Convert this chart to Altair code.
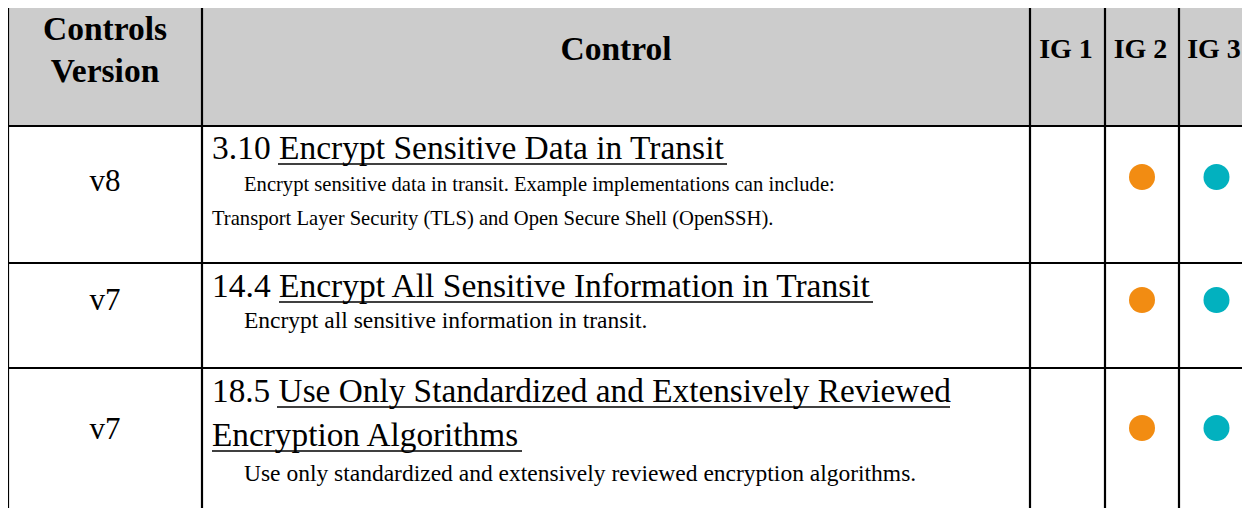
import altair as alt
import pandas as pd

# ---------------- data ----------------
headers = [["Controls", "Version"], ["Control"], ["IG 1"], ["IG 2"], ["IG 3"]]
versions = ["v8", "v7", "v7"]
control_ids = ["3.10", "14.4", "18.5"]
titles = [
    ["Encrypt Sensitive Data in Transit"],
    ["Encrypt All Sensitive Information in Transit"],
    ["Use Only Standardized and Extensively Reviewed", "Encryption Algorithms"],
]
descriptions = [
    ["Encrypt sensitive data in transit. Example implementations can include:",
     "Transport Layer Security (TLS) and Open Secure Shell (OpenSSH)."],
    ["Encrypt all sensitive information in transit."],
    ["Use only standardized and extensively reviewed encryption algorithms."],
]
ig1 = [False, False, False]
ig2 = [True, True, True]
ig3 = [True, True, True]
ig_colors = ["#F28C12", "#F28C12", "#02B1BF"]

# ---------------- layout (page pixels) ----------------
col_edges = [8, 202, 1030, 1105, 1179, 1254]
row_edges = [7, 126, 263, 368, 540]
header_line_y = [[30, 72], [50], [50], [50], [50]]
header_size = [33.5, 33.5, 28, 28, 28]
header_dx = [0, 0, -1.5, -1.5, -2.5]
version_y = [182, 301, 430]
version_size = 31
title_y = [[149], [287], [392, 436]]
title_size = [33.5, 33.5, 33.3]
underline_span = [[[278, 727]], [[279, 873]], [[277, 950], [212, 522]]]
underline_dy = 15
desc_y = [[185, 219], [321], [474]]
desc_x = [[244, 212], [244], [244]]
desc_size = [20.6, 23.5, 23.5]
dot_y = [177, 300, 428]
FONT = "Liberation Serif"

col_centers = [(col_edges[i] + col_edges[i + 1]) / 2 for i in range(5)]
text_left = col_edges[1] + 10

# header rect
hdr = pd.DataFrame([{"x": col_edges[0], "x2": col_edges[-1], "y": row_edges[0], "y2": row_edges[1]}])

# grid lines
lines = []
for yv in row_edges[:-1]:
    lines.append({"x": col_edges[0], "x2": col_edges[-1], "y": yv, "y2": yv})
for xv in col_edges:
    lines.append({"x": xv, "x2": xv, "y": row_edges[0], "y2": row_edges[-1]})
lines = pd.DataFrame(lines)

# underlines of the control titles
ulines = []
for r in range(3):
    for j, (a, b) in enumerate(underline_span[r]):
        yv = title_y[r][j] + underline_dy
        ulines.append({"x": a, "x2": b, "y": yv, "y2": yv})
ulines = pd.DataFrame(ulines)

# header texts
htexts = []
for i, hl in enumerate(headers):
    for j, t in enumerate(hl):
        htexts.append({"x": col_centers[i] + header_dx[i], "y": header_line_y[i][j], "t": t,
                       "s": header_size[i]})
htexts = pd.DataFrame(htexts)

# versions
vtexts = pd.DataFrame([{"x": col_centers[0], "y": version_y[r], "t": versions[r], "s": version_size}
                       for r in range(3)])

# control titles + descriptions (left aligned)
ltexts = []
for r in range(3):
    for j, t in enumerate(titles[r]):
        txt = (control_ids[r] + " " + t) if j == 0 else t
        ltexts.append({"x": text_left, "y": title_y[r][j], "t": txt, "s": title_size[r]})
    for j, t in enumerate(descriptions[r]):
        ltexts.append({"x": desc_x[r][j], "y": desc_y[r][j], "t": t, "s": desc_size[r]})
ltexts = pd.DataFrame(ltexts)

# dots
dots = []
for r in range(3):
    for k, flags in enumerate([ig1, ig2, ig3]):
        if flags[r]:
            dots.append({"x": col_centers[2 + k], "y": dot_y[r], "ig": "IG %d" % (k + 1)})
dots = pd.DataFrame(dots)

W, H = 1234, 500
xs = alt.Scale(domain=[8, 8 + W], range=[0, W], zero=False, nice=False)
ys = alt.Scale(domain=[8, 8 + H], range=[0, H], zero=False, nice=False)
X = lambda f: alt.X(f, type="quantitative", scale=xs, axis=None)
Y = lambda f: alt.Y(f, type="quantitative", scale=ys, axis=None)

rect = alt.Chart(hdr).mark_rect(color="#CCCCCC").encode(
    x=X("x"), x2="x2", y=Y("y"), y2="y2")
rules = alt.Chart(lines).mark_rule(color="black", strokeWidth=2.2).encode(
    x=X("x"), x2="x2", y=Y("y"), y2="y2")
urules = alt.Chart(ulines).mark_rule(color="black", strokeWidth=1.5).encode(
    x=X("x"), x2="x2", y=Y("y"), y2="y2")
htext = alt.Chart(htexts).mark_text(font=FONT, fontWeight="bold", align="center",
                                    baseline="middle", color="black").encode(
    x=X("x"), y=Y("y"), text="t:N", size=alt.Size("s:Q", scale=None, legend=None))
vtext = alt.Chart(vtexts).mark_text(font=FONT, align="center", baseline="middle",
                                    color="black").encode(
    x=X("x"), y=Y("y"), text="t:N", size=alt.Size("s:Q", scale=None, legend=None))
ltext = alt.Chart(ltexts).mark_text(font=FONT, align="left", baseline="middle",
                                    color="black").encode(
    x=X("x"), y=Y("y"), text="t:N", size=alt.Size("s:Q", scale=None, legend=None))
dot = alt.Chart(dots).mark_point(filled=True, shape="circle", size=676, opacity=1).encode(
    x=X("x"), y=Y("y"),
    color=alt.Color("ig:N", scale=alt.Scale(domain=["IG 1", "IG 2", "IG 3"], range=ig_colors),
                    legend=None))

chart = alt.layer(rect, rules, urules, htext, vtext, ltext, dot).properties(
    width=W, height=H, padding=0, autosize=alt.AutoSizeParams(type="none"),
    background="white"
).configure_view(stroke=None)

chart.save("out.html", embed_options={"renderer": "svg", "actions": False})
